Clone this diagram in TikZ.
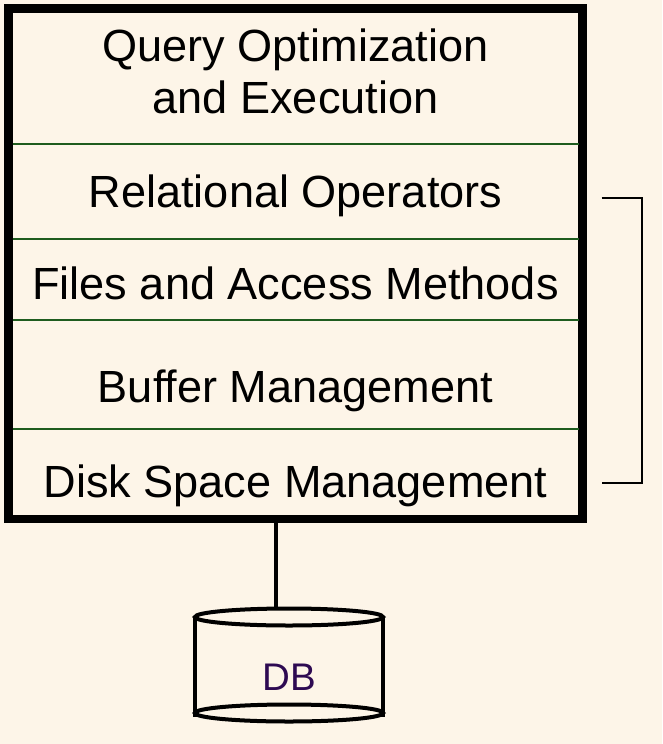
\documentclass[tikz,border=0pt]{standalone}
\usepackage{fontspec}
\setmainfont{Liberation Sans}
\usetikzlibrary{positioning}
\definecolor{paper}{HTML}{FDF5E8}
\definecolor{rulegreen}{HTML}{1E5C1E}
\definecolor{dbtext}{HTML}{2E0A52}
\tikzset{
  layer/.style={inner sep=0pt, text height=32pt, text depth=9pt,
    font=\fontsize{45.1}{54}\selectfont},
  divider/.style={rulegreen, line width=1.5pt, shorten <=4pt, shorten >=4pt},
  cyl/.style={line width=4pt},
}

\begin{document}
\begin{tikzpicture}[x=1pt,y=-1pt]
  \fill[paper] (0,0) rectangle (662,744);
  \useasboundingbox (0,0) rectangle (662,744);
  \node[draw, line width=8.5pt, outer sep=0pt, inner sep=0pt,
    minimum width=574pt, minimum height=510.5pt] (stack) at (295.5,263.75) {};
  \foreach \y in {144,239,320,429}
    \draw[divider] (stack.west |- 0,\y) -- (stack.east |- 0,\y);
  \node[layer] (query) at (295.5,49.5) {Query Optimization};
  \node[layer, on grid, below=52pt of query] (exec) {and Execution};
  \node[layer, on grid, below=94pt of exec] (relops) {Relational Operators};
  \node[layer, on grid, below=92pt of relops] (files) {Files and Access Methods};
  \node[layer, on grid, below=103pt of files] (buffer) {Buffer Management};
  \node[layer, on grid, below=95pt of buffer] (disk) {Disk Space Management};
  % bracket beside the lower layers
  \coordinate (brtop) at (601.7,197.7);
  \coordinate (brbot) at (601.7,483);
  \draw[line width=1.8pt] (brtop) -- ++(40.3,0) |- (brbot);
  % database
  \coordinate (dbtop) at (289,617);
  \coordinate (dbbot) at (289,713);
  \coordinate (link) at (275.7,608.5);
  \draw[cyl] (stack.south -| link) -- (link);
  \draw[cyl] (dbtop) ellipse [x radius=94pt, y radius=8.5pt];
  \draw[cyl] (dbbot) ellipse [x radius=94pt, y radius=8.5pt];
  \draw[cyl] (dbtop) ++(-94,0) -- ++(0,100);
  \draw[cyl] (dbtop) ++(94,0) -- ++(0,100);
  \node[inner sep=0pt, text height=27pt, text depth=0pt, text=dbtext,
    font=\fontsize{38.5}{45}\selectfont] (db) at (289,676.5) {DB};
\end{tikzpicture}
\end{document}
